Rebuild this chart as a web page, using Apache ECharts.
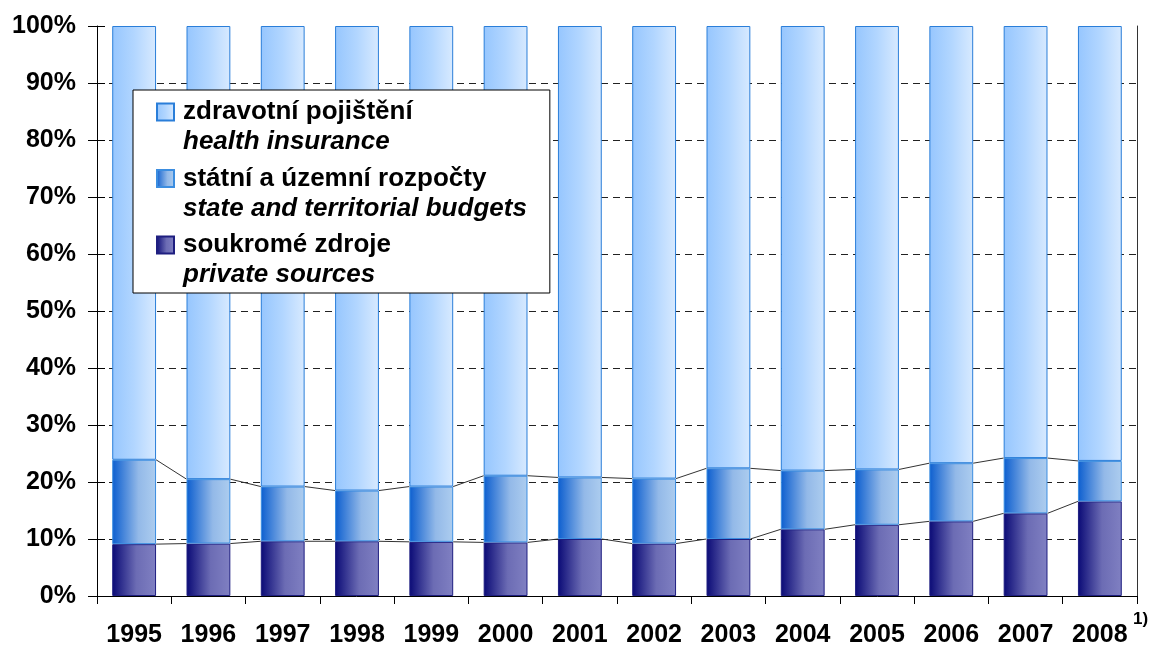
<!DOCTYPE html>
<html>
<head>
<meta charset="utf-8">
<script src="https://cdn.jsdelivr.net/npm/echarts@6/dist/echarts.min.js"></script>
<style>html,body{margin:0;padding:0;background:#fff;}#c{width:1152px;height:646px;}</style>
</head>
<body>
<div id="c"></div>
<script>
var years = ['1995','1996','1997','1998','1999','2000','2001','2002','2003','2004','2005','2006','2007','2008'];
var privateSources = [9.1, 9.2, 9.6, 9.6, 9.5, 9.4, 10.0, 9.2, 10.0, 11.7, 12.5, 13.1, 14.5, 16.6];
var stateBudgets   = [14.8, 11.3, 9.6, 8.9, 9.7, 11.7, 10.8, 11.4, 12.4, 10.3, 9.7, 10.2, 9.7, 7.1];
var healthInsurance = [76.1, 79.5, 80.8, 81.5, 80.8, 78.9, 79.2, 79.4, 77.6, 78.0, 77.8, 76.7, 75.8, 76.3];
var yTicks = {min: 0, max: 100, interval: 10};
var names = {
  health: ['zdravotní pojištění', 'health insurance'],
  state: ['státní a územní rozpočty', 'state and territorial budgets'],
  priv: ['soukromé zdroje', 'private sources']
};
var english = {};
english[names.health[0]] = names.health[1];
english[names.state[0]] = names.state[1];
english[names.priv[0]] = names.priv[1];

var BAR_FRAC = 0.59;
function grad(stops) {
  return new echarts.graphic.LinearGradient(0, 0, 1, 0, stops.map(function (s) { return {offset: s[0], color: s[1]}; }));
}

// cumulative tops for series lines
var lineData = [];
for (var i = 0; i < years.length - 1; i++) {
  var p0 = privateSources[i], p1 = privateSources[i + 1];
  var s0 = p0 + stateBudgets[i], s1 = p1 + stateBudgets[i + 1];
  lineData.push([i, p0, p1, s0, s1]);
}

var chart = echarts.init(document.getElementById('c'), null, {renderer: 'canvas'});
var font = 'Liberation Sans, Arial, sans-serif';
chart.setOption({
  animation: false,
  backgroundColor: '#fff',
  grid: {left: 97, right: 15, top: 26, bottom: 50, containLabel: false, outerBoundsMode: 'none'},
  xAxis: {
    type: 'category',
    data: years,
    axisLine: {lineStyle: {color: '#000', width: 1}},
    axisTick: {show: true, length: 8, lineStyle: {color: '#000'}},
    axisLabel: {color: '#000', fontFamily: font, fontWeight: 'bold', fontSize: 25, margin: 27}
  },
  yAxis: [{
    type: 'value', min: yTicks.min, max: yTicks.max, interval: yTicks.interval,
    axisLine: {show: true, lineStyle: {color: '#000'}},
    axisTick: {show: true, length: 9, lineStyle: {color: '#000'}},
    axisLabel: {color: '#000', fontFamily: font, fontWeight: 'bold', fontSize: 25, margin: 21, formatter: '{value}%'},
    splitLine: {show: true, showMaxLine: false, showMinLine: false, lineStyle: {color: '#222', type: [7, 5], width: 1}}
  }, {
    type: 'value', min: yTicks.min, max: yTicks.max, interval: yTicks.interval, position: 'left',
    axisLine: {show: false},
    axisTick: {show: true, inside: true, length: 8, lineStyle: {color: '#000'}},
    axisLabel: {show: false}, splitLine: {show: false}
  }, {
    type: 'value', min: yTicks.min, max: yTicks.max, interval: yTicks.interval, position: 'right',
    axisLine: {show: true, lineStyle: {color: '#333'}},
    axisTick: {show: false}, axisLabel: {show: false}, splitLine: {show: false}
  }],
  legend: {
    orient: 'vertical',
    left: 133, top: 90,
    data: [names.health[0], names.state[0], names.priv[0]],
    backgroundColor: '#fff',
    borderColor: '#000', borderWidth: 1, borderRadius: 0,
    padding: [9, 23, 5, 23],
    itemGap: 10.5,
    itemWidth: 17, itemHeight: 17,
    icon: 'rect',
    selectedMode: false,
    formatter: function (n) { return '{a|' + n + '}\n{b|' + english[n] + '}'; },
    textStyle: {
      color: '#000', padding: [0, 0, -30, 4],
      rich: {
        a: {fontFamily: font, fontWeight: 'bold', fontSize: 26, lineHeight: 30, color: '#000'},
        b: {fontFamily: font, fontWeight: 'bold', fontStyle: 'italic', fontSize: 26, lineHeight: 30, color: '#000'}
      }
    }
  },
  graphic: [{
    type: 'text', left: 1133, top: 611,
    style: {text: '1)', fontFamily: font, fontWeight: 'bold', fontSize: 17, fill: '#000'}
  }],
  series: [{
    name: names.priv[0], type: 'bar', stack: 'total', barWidth: (BAR_FRAC * 100) + '%',
    data: privateSources,
    itemStyle: {color: grad([[0, '#0a0a76'], [0.55, '#6c6cb4'], [1, '#8080c2']]), borderColor: '#1e1e80', borderWidth: 1}
  }, {
    name: names.state[0], type: 'bar', stack: 'total',
    data: stateBudgets,
    itemStyle: {color: grad([[0, '#0c5ecf'], [0.6, '#93b9e8'], [1, '#adcdef']]), borderColor: '#3b8de0', borderWidth: 1}
  }, {
    name: names.health[0], type: 'bar', stack: 'total',
    data: healthInsurance,
    itemStyle: {color: grad([[0, '#96c6fe'], [0.5, '#b2d6ff'], [1, '#d8eaff']]), borderColor: '#2a7ed9', borderWidth: 1}
  }, {
    type: 'custom',
    silent: true,
    data: lineData,
    encode: {x: 0, y: [1, 2, 3, 4]},
    z: 5,
    renderItem: function (params, api) {
      var idx = api.value(0);
      var half = api.size([1, 0])[0] * BAR_FRAC / 2;
      var a0 = api.coord([idx, api.value(1)]), a1 = api.coord([idx + 1, api.value(2)]);
      var b0 = api.coord([idx, api.value(3)]), b1 = api.coord([idx + 1, api.value(4)]);
      var st = {stroke: '#333', lineWidth: 1, fill: null};
      return {type: 'group', children: [
        {type: 'line', shape: {x1: a0[0] + half, y1: a0[1], x2: a1[0] - half, y2: a1[1]}, style: st},
        {type: 'line', shape: {x1: b0[0] + half, y1: b0[1], x2: b1[0] - half, y2: b1[1]}, style: st}
      ]};
    }
  }]
});
</script>
</body>
</html>
